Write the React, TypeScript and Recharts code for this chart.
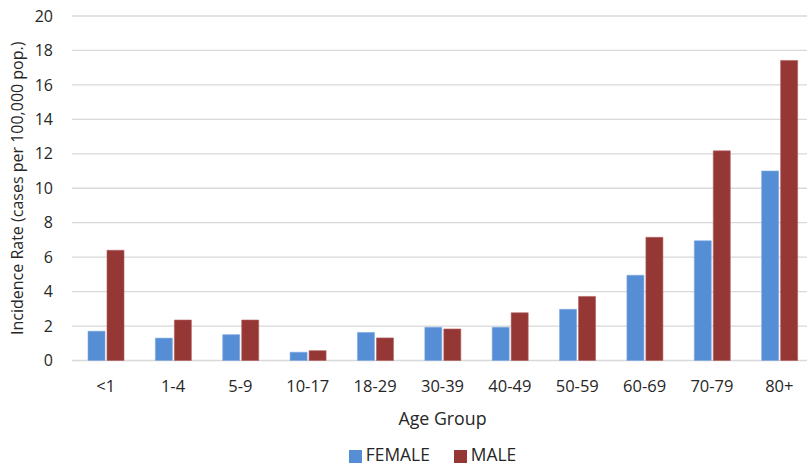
import React from 'react';
import { BarChart, Bar, XAxis, YAxis, CartesianGrid, Legend } from 'recharts';

const ageGroups = ['<1', '1-4', '5-9', '10-17', '18-29', '30-39', '40-49', '50-59', '60-69', '70-79', '80+'];
const femaleRates = [1.7, 1.3, 1.5, 0.48, 1.63, 1.93, 1.93, 2.97, 4.95, 6.95, 11.0];
const maleRates = [6.4, 2.35, 2.35, 0.57, 1.31, 1.83, 2.77, 3.72, 7.15, 12.17, 17.42];
const yTicks = [0, 2, 4, 6, 8, 10, 12, 14, 16, 18, 20];

const data = ageGroups.map((g, i) => ({ group: g, FEMALE: femaleRates[i], MALE: maleRates[i] }));

const FONT = '"Open Sans", sans-serif';
const TEXT = '#262626';

export default function App() {
  return (
    <div style={{ position: 'fixed', left: 0, top: 0, width: 807, height: 466, overflow: 'hidden', background: '#fff' }}>
      <BarChart
        width={816}
        height={466}
        data={data}
        margin={{ top: 16, right: 3, left: 0, bottom: 0 }}
        barSize={17}
        barGap={2}
        style={{ fontFamily: FONT }}
      >
        <CartesianGrid vertical={false} stroke="#d9d9d9" strokeWidth={1.3} />
        <XAxis
          dataKey="group"
          axisLine={false}
          tickLine={false}
          tickMargin={14}
          height={81.5}
          interval={0}
          tick={{ fill: TEXT, fontSize: 16.5, fontFamily: FONT }}
          label={{ value: 'Age Group', position: 'insideBottom', offset: 17, fill: TEXT, fontSize: 17.8, fontFamily: FONT }}
        />
        <YAxis
          width={72}
          domain={[0, 20]}
          ticks={yTicks}
          interval={0}
          axisLine={false}
          tickLine={false}
          tickMargin={13}
          tick={{ fill: TEXT, fontSize: 16, fontFamily: FONT }}
          label={{
            value: 'Incidence Rate (cases per 100,000 pop.)',
            angle: -90,
            position: 'insideLeft',
            offset: 17,
            fill: TEXT,
            fontSize: 16,
            fontFamily: FONT,
            style: { textAnchor: 'middle' },
          }}
        />
        <Legend
          verticalAlign="bottom"
          align="center"
          iconType="square"
          iconSize={13}
          wrapperStyle={{ height: 24, lineHeight: '24px', fontSize: 17.4, fontFamily: FONT, left: 0, width: 807, paddingLeft: 68, boxSizing: 'border-box' }}
          formatter={(value) => (
            <span style={{ color: TEXT, marginRight: value === 'FEMALE' ? 14 : 0 }}>{value}</span>
          )}
        />
        <Bar dataKey="FEMALE" fill="#558ed5" stroke="#7fa9e0" strokeWidth={0.6} isAnimationActive={false} />
        <Bar dataKey="MALE" fill="#953735" stroke="#b0605e" strokeWidth={0.6} isAnimationActive={false} />
      </BarChart>
    </div>
  );
}
